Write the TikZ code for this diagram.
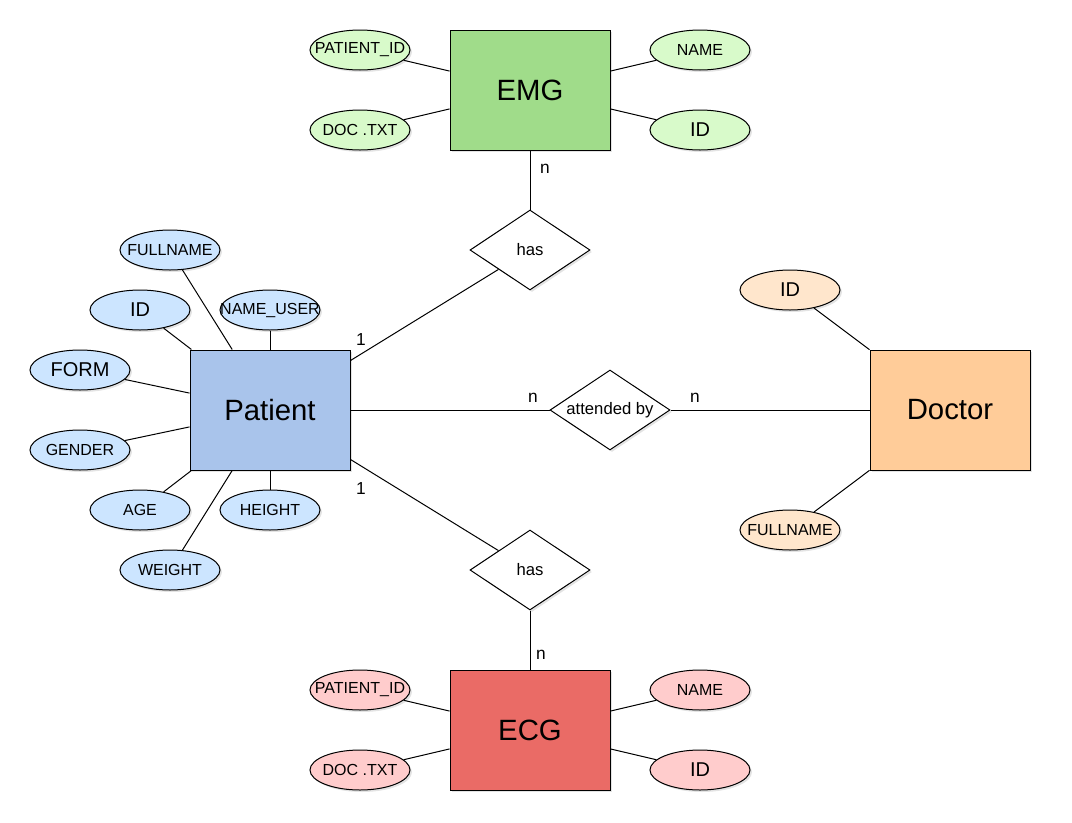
\documentclass[tikz,border=0pt]{standalone}
\usepackage{fontspec}
\setmainfont{Liberation Sans}
\usetikzlibrary{shapes.geometric,shadows}

\definecolor{emgfill}{HTML}{A0DC8A}
\definecolor{emgattr}{HTML}{D8FACA}
\definecolor{patfill}{HTML}{A9C4EB}
\definecolor{patattr}{HTML}{CCE5FF}
\definecolor{docfill}{HTML}{FFCC99}
\definecolor{docattr}{HTML}{FFE6CC}
\definecolor{ecgfill}{HTML}{EA6B66}
\definecolor{ecgattr}{HTML}{FFCCCC}

% attribute text that does not widen its ellipse
\newcommand{\atxt}[1]{\makebox[0pt]{#1}}

\begin{document}
\begin{tikzpicture}[x=0.75pt,y=-0.75pt,line width=0.75pt,
    shd/.style={drop shadow={opacity=0.22,shadow xshift=1.5pt,shadow yshift=-1.5pt}},
    entity/.style={rectangle,draw,shd,minimum width=120pt,minimum height=90pt,
                   font=\fontsize{22}{26}\selectfont},
    attr/.style={ellipse,draw,shd,minimum width=75pt,minimum height=30pt,inner sep=0pt,
                 font=\fontsize{12}{14}\selectfont},
    bigattr/.style={attr,font=\fontsize{15}{18}\selectfont},
    rel/.style={diamond,draw,shd,fill=white,aspect=1.5,inner sep=0pt,
                minimum width=90pt,minimum height=60pt,font=\fontsize{12.5}{15}\selectfont},
    card/.style={font=\fontsize{13}{15}\selectfont}]
  \useasboundingbox (0,0) rectangle (1072,822);

  % entities
  \node (emg) at (530,90) [entity,fill=emgfill]{EMG};
  \node (patient) at (270,410) [entity,fill=patfill]{Patient};
  \node (doctor) at (950,410) [entity,fill=docfill]{Doctor};
  \node (ecg) at (530,730) [entity,fill=ecgfill]{ECG};

  % relationships
  \node (hasemg) at (530,250) [rel]{has};
  \node (attby) at (610,410) [rel]{attended by};
  \node (hasecg) at (530,570) [rel]{has};

  % EMG attributes
  \node (emgpid) at (360,50) [attr,fill=emgattr]{\atxt{PATIENT\_ID}};
  \node (emgdoc) at (360,130) [attr,fill=emgattr]{\atxt{DOC .TXT}};
  \node (emgname) at (700,50) [attr,fill=emgattr]{\atxt{NAME}};
  \node (emgid) at (700,130) [bigattr,fill=emgattr]{\atxt{ID}};

  % ECG attributes
  \node (ecgpid) at (360,690) [attr,fill=ecgattr]{\atxt{PATIENT\_ID}};
  \node (ecgdoc) at (360,770) [attr,fill=ecgattr]{\atxt{DOC .TXT}};
  \node (ecgname) at (700,690) [attr,fill=ecgattr]{\atxt{NAME}};
  \node (ecgid) at (700,770) [bigattr,fill=ecgattr]{\atxt{ID}};

  % Patient attributes
  \node (pfull) at (170,250) [attr,fill=patattr]{\atxt{FULLNAME}};
  \node (pid) at (140,310) [bigattr,fill=patattr]{\atxt{ID}};
  \node (puser) at (270,310) [attr,fill=patattr]{\atxt{NAME\_USER}};
  \node (pform) at (80,370) [bigattr,fill=patattr]{\atxt{FORM}};
  \node (pgender) at (80,450) [attr,fill=patattr]{\atxt{GENDER}};
  \node (page) at (140,510) [attr,fill=patattr]{\atxt{AGE}};
  \node (pheight) at (270,510) [attr,fill=patattr]{\atxt{HEIGHT}};
  \node (pweight) at (170,570) [attr,fill=patattr]{\atxt{WEIGHT}};

  % Doctor attributes
  \node (did) at (790,290) [bigattr,fill=docattr]{\atxt{ID}};
  \node (dfull) at (790,530) [attr,fill=docattr]{\atxt{FULLNAME}};

  % attribute links
  \foreach \a in {emgpid,emgdoc,emgname,emgid}
    \draw (\a) -- (emg);
  \foreach \a in {ecgpid,ecgdoc,ecgname,ecgid}
    \draw (\a) -- (ecg);
  \foreach \a in {pfull,pid,puser,pform,pgender,page,pheight,pweight}
    \draw (\a) -- (patient);
  \foreach \a in {did,dfull}
    \draw (\a) -- (doctor);

  % relationship links
  \draw (emg) -- (hasemg);
  \draw (patient) -- (hasemg);
  \draw (patient) -- (attby);
  \draw (attby) -- (doctor);
  \draw (patient) -- (hasecg);
  \draw (hasecg) -- (ecg);

  % cardinalities
  \node (c1) at (545,169) [card]{n};
  \node (c2) at (361,340) [card]{1};
  \node (c3) at (533,398) [card]{n};
  \node (c4) at (695,398) [card]{n};
  \node (c5) at (361,489) [card]{1};
  \node (c6) at (541,655) [card]{n};
\end{tikzpicture}
\end{document}
